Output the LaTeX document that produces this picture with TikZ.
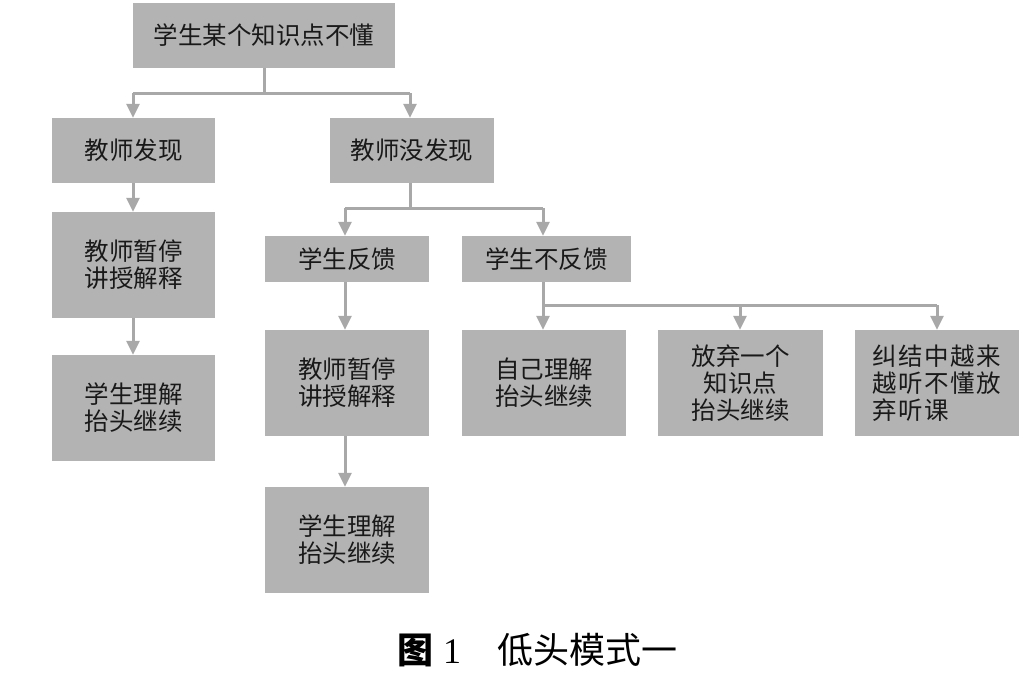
\documentclass[tikz,border=0pt]{standalone}
\usepackage{fontspec}
\setmainfont{Noto Sans CJK SC}
\newfontfamily\capfont{Noto Sans CJK SC}
\newfontfamily\numfont{Liberation Serif}
\usetikzlibrary{arrows.meta}
\definecolor{boxgray}{HTML}{B3B3B3}
\definecolor{linegray}{HTML}{A8A8A8}
\newcommand{\ks}{\hspace{1.5pt}}
\tikzset{
  box/.style={fill=boxgray, draw=none, inner sep=0pt, align=center,
    font=\fontsize{24.5}{27}\selectfont, text=black!90},
  conn/.style={draw=linegray, line width=3pt},
  arr/.style={conn, -{Triangle[width=13pt,length=14pt]}},
}
\begin{document}
\begin{tikzpicture}[x=1pt,y=-1pt]
\useasboundingbox (0,0) rectangle (1031,678);
% boxes
\node[box, minimum width=262pt, minimum height=65pt] (top) at (264,35.5) {学生某个知识点不懂};
\node[box, minimum width=163pt, minimum height=65pt] (tf) at (133.5,150.5) {教师发现};
\node[box, minimum width=164pt, minimum height=65pt] (tnf) at (412,150.5) {教师没发现};
\node[box, minimum width=163pt, minimum height=106pt] (lp) at (133.5,265) {教师暂停\\讲授解释};
\node[box, minimum width=163pt, minimum height=106pt] (lu) at (133.5,408) {学生理解\\抬头继续};
\node[box, minimum width=164pt, minimum height=46pt] (fb) at (347,259) {学生反馈};
\node[box, minimum width=169pt, minimum height=46pt] (nfb) at (546.5,259) {学生不反馈};
\node[box, minimum width=164pt, minimum height=106pt] (mp) at (347,383) {教师暂停\\讲授解释};
\node[box, minimum width=164pt, minimum height=106pt] (mu) at (347,540) {学生理解\\抬头继续};
\node[box, minimum width=164pt, minimum height=106pt] (b10) at (544,383) {自己理解\\抬头继续};
\node[box, minimum width=165pt, minimum height=106pt] (b11) at (740.5,383) {放弃一个\\知识点\\抬头继续};
\node[box, minimum width=164pt, minimum height=106pt, align=left] (b12) at (937,383) {纠\ks 结\ks 中\ks 越\ks 来\\越\ks 听\ks 不\ks 懂\ks 放\\弃\ks 听\ks 课};
% junction coordinates
\coordinate (j1) at (264,93);
\coordinate (j1l) at (133,93);
\coordinate (j1r) at (410,93);
\coordinate (j2) at (410,208);
\coordinate (j2l) at (345,208);
\coordinate (j2r) at (543,208);
\coordinate (j3) at (543,305);
\coordinate (j3m) at (740,305);
\coordinate (j3r) at (937,305);
% connectors
\draw[conn] (top.south -| j1) -- (j1);
\draw[conn] (j1l) -- (j1r);
\draw[arr] (j1l) -- (j1l |- tf.north);
\draw[arr] (j1r) -- (j1r |- tnf.north);
\draw[conn] (tnf.south -| j2) -- (j2);
\draw[conn] (j2l) -- (j2r);
\draw[arr] (j2l) -- (j2l |- fb.north);
\draw[arr] (j2r) -- (j2r |- nfb.north);
\draw[conn] (nfb.south -| j3) -- (j3);
\draw[conn] (j3) -- (j3r);
\draw[arr] (j3) -- (j3 |- b10.north);
\draw[arr] (j3m) -- (j3m |- b11.north);
\draw[arr] (j3r) -- (j3r |- b12.north);
\draw[arr] (tf.south -| j1l) -- (j1l |- lp.north);
\draw[arr] (lp.south -| j1l) -- (j1l |- lu.north);
\draw[arr] (fb.south -| j2l) -- (j2l |- mp.north);
\draw[arr] (mp.south -| j2l) -- (j2l |- mu.north);
% caption
\node[font=\fontsize{36}{40}\selectfont, anchor=center] (cap) at (537,650)
  {{\capfont\bfseries 图}\hspace{10pt}{\numfont 1}\hspace{36pt}{\capfont 低头模式一}};
\end{tikzpicture}
\end{document}
